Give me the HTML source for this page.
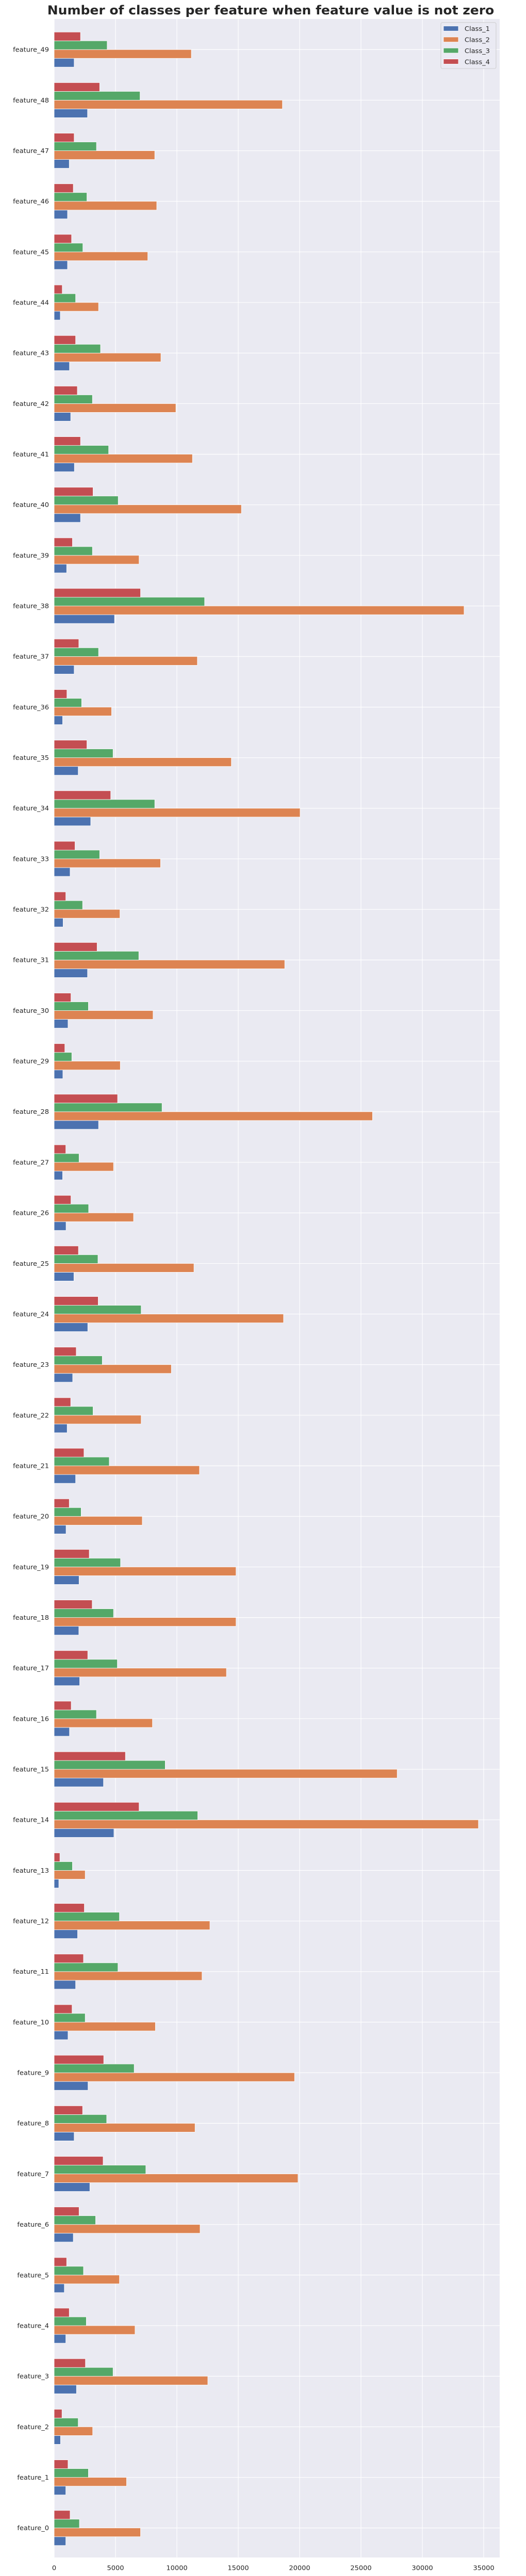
<!DOCTYPE html>
<html><head><meta charset="utf-8"><style>
html,body{margin:0;padding:0;background:#fff;width:100%;height:100%;overflow:hidden;}
svg{position:absolute;left:0;top:0;width:100vw;height:100vh;display:block;font-family:"DejaVu Sans","Liberation Sans",sans-serif;}
</style></head><body><svg id="chart" viewBox="0 0 1020 5148" preserveAspectRatio="none" xmlns="http://www.w3.org/2000/svg">
<text x="525" y="29" text-anchor="middle" font-size="25" font-weight="bold" fill="#262626">Number of classes per feature when feature value is not zero</text>
<rect id="plot" x="105" y="38" width="864" height="5073" fill="#eaeaf2"/>
<g id="grid"></g><g id="bars"></g><g id="labels"></g>
<g id="legend"></g>
</svg><script>
const categories = [];
for (let i = 0; i < 50; i++) categories.push('feature_' + i);
const class1 = [0.95,0.95,0.52,1.82,0.95,0.83,1.56,2.91,1.63,2.76,1.13,1.75,1.91,0.38,4.87,4.02,1.25,2.08,2.01,2.03,0.97,1.75,1.06,1.51,2.74,1.61,0.97,0.69,3.62,0.71,1.13,2.72,0.73,1.30,2.98,1.96,0.69,1.63,4.92,1.02,2.15,1.65,1.35,1.25,0.50,1.09,1.09,1.23,2.72,1.63];
const class2 = [7.04,5.9,3.14,12.52,6.59,5.32,11.89,19.87,11.48,19.59,8.25,12.05,12.69,2.53,34.57,27.95,8.01,14.04,14.82,14.82,7.18,11.84,7.09,9.55,18.69,11.39,6.47,4.84,25.94,5.39,8.06,18.79,5.36,8.67,20.04,14.44,4.68,11.67,33.4,6.92,15.26,11.27,9.92,8.7,3.62,7.63,8.36,8.2,18.6,11.18];
const class3 = [2.06,2.79,1.96,4.80,2.62,2.39,3.38,7.47,4.28,6.52,2.53,5.2,5.32,1.49,11.70,9.05,3.45,5.15,4.84,5.41,2.20,4.49,3.17,3.92,7.09,3.57,2.81,2.03,8.79,1.44,2.79,6.9,2.32,3.71,8.2,4.80,2.24,3.62,12.26,3.12,5.22,4.44,3.12,3.78,1.75,2.34,2.67,3.45,7.0,4.32];
const class4 = [1.3,1.13,0.64,2.55,1.23,1.02,2.03,3.99,2.32,4.04,1.46,2.39,2.46,0.47,6.92,5.81,1.39,2.74,3.10,2.86,1.23,2.43,1.35,1.80,3.59,1.98,1.37,0.95,5.17,0.87,1.37,3.50,0.95,1.70,4.61,2.67,1.04,2.01,7.04,1.49,3.17,2.15,1.89,1.75,0.66,1.42,1.56,1.63,3.71,2.15];
const seriesNames = ['Class_1','Class_2','Class_3','Class_4'];
const xTicks = [0,5000,10000,15000,20000,25000,30000,35000];

const NS = 'http://www.w3.org/2000/svg';
const colors = ['#4c72b0','#dd8452','#55a868','#c44e52'];
const X0 = 105, PX_PER = 119 / 5000;
const x = v => X0 + v * PX_PER;
const XR = x(36300);
document.getElementById('plot').setAttribute('width', XR - X0);
const y = i => 5052 - i * 101.08;
const BH = 17.5;
function mk(tag, attrs, parent) {
  const e = document.createElementNS(NS, tag);
  for (const k in attrs) e.setAttribute(k, attrs[k]);
  parent.appendChild(e); return e;
}
const grid = document.getElementById('grid');
const bars = document.getElementById('bars');
const labels = document.getElementById('labels');
xTicks.forEach(t => {
  const l = mk('line', {x1: x(t), x2: x(t), y1: 38, y2: 5111, stroke: '#fff', 'stroke-width': 1.2}, grid);
  
  
  const tx = mk('text', {x: x(t), y: 5136, 'text-anchor': 'middle', 'font-size': 13, fill: '#262626'}, labels);
  tx.textContent = String(t);
  
  
});
categories.forEach((c, i) => {
  const l = mk('line', {x1: X0, x2: XR, y1: y(i), y2: y(i), stroke: '#fff', 'stroke-width': 1.2}, grid);
  
  
  const tx = mk('text', {x: 95, y: y(i) + 4.5, 'text-anchor': 'end', 'font-size': 13, fill: '#262626'}, labels);
  tx.textContent = c;
  
  
});
const all = [class1, class2, class3, class4];
const offsets = [BH, 0, -BH, -2 * BH];
all.forEach((arr, s) => {
  arr.forEach((v, i) => {
    const r = mk('rect', {x: X0, y: y(i) + offsets[s], width: Math.max(0, x(v * 1000) - X0), height: BH, fill: colors[s], stroke: '#fff', 'stroke-width': 0.8}, bars);
    
    
  });
});
const lg = document.getElementById('legend');
const LX = XR - 114;
const box = mk('rect', {x: LX, y: 45, width: 107, height: 92, rx: 3, fill: '#eaeaf2', 'fill-opacity': 0.8, stroke: '#cccccc'}, lg);


seriesNames.forEach((n, s) => {
  const yy = 57 + s * 22;
  const p = mk('rect', {x: LX + 5, y: yy - 5, width: 29, height: 10, fill: colors[s], stroke: '#fff', 'stroke-width': 0.8}, lg);
  
  
  const t = mk('text', {x: LX + 46, y: yy + 5, 'font-size': 13, fill: '#262626'}, lg);
  t.textContent = n;
  
  
});
</script></body></html>
